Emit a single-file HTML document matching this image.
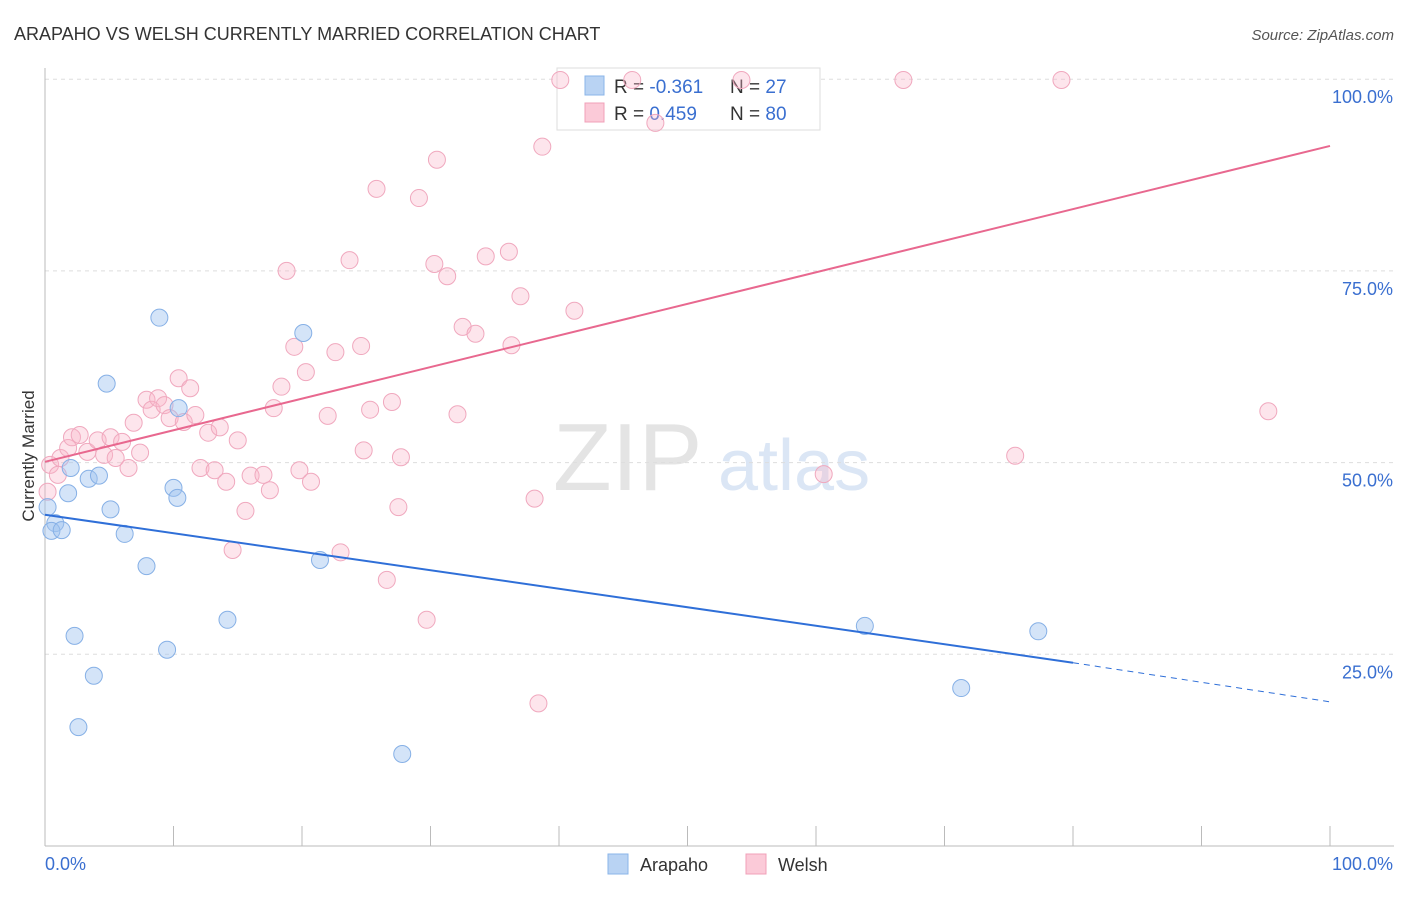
<!DOCTYPE html>
<html><head><meta charset="utf-8">
<style>
body{margin:0;background:#fff;font-family:"Liberation Sans",sans-serif;}
svg text{font-family:"Liberation Sans",sans-serif;}
</style></head>
<body>
<svg id="chart" width="1406" height="892">
<text x="14" y="40" font-size="18" fill="#333">ARAPAHO VS WELSH CURRENTLY MARRIED CORRELATION CHART</text>
<text x="1394" y="40" font-size="15" fill="#555" font-style="italic" text-anchor="end">Source: ZipAtlas.com</text>
<text x="553" y="490" font-size="96" fill="#e4e4e4" font-family="Liberation Serif">ZIP</text>
<text x="718" y="490" font-size="72" fill="#dbe6f5">atlas</text>
<g id="grid"></g>
<g id="axes"></g>
<g id="legend">
<rect x="557" y="68" width="263" height="62" fill="#fff" stroke="#ddd"/>
<rect x="585" y="76" width="19" height="19" fill="#b9d3f3" stroke="#8ab4e8"/>
<rect x="585" y="103" width="19" height="19" fill="#fbcad8" stroke="#f0a0b8"/>
<text x="614" y="93" font-size="19" fill="#333">R = <tspan fill="#3a6fd0">-0.361</tspan></text>
<text x="730" y="93" font-size="19" fill="#333">N = <tspan fill="#3a6fd0"> 27</tspan></text>
<text x="614" y="120" font-size="19" fill="#333">R = <tspan fill="#3a6fd0"> 0.459</tspan></text>
<text x="730" y="120" font-size="19" fill="#333">N = <tspan fill="#3a6fd0">80</tspan></text>
</g>
<g id="marks"></g>
<g>
<rect x="608" y="854" width="20" height="20" fill="#b9d3f3" stroke="#8ab4e8"/>
<text x="640" y="871" font-size="18" fill="#333">Arapaho</text>
<rect x="746" y="854" width="20" height="20" fill="#fbcad8" stroke="#f0a0b8"/>
<text x="778" y="871" font-size="18" fill="#333">Welsh</text>
</g>
<text transform="translate(34,456) rotate(-90)" font-size="17" fill="#333" text-anchor="middle">Currently Married</text>
</svg>
<script>
const yTicks=[25,50,75,100];
const yTickLabels=["25.0%","50.0%","75.0%","100.0%"];
const xTicks=[0,10,20,30,40,50,60,70,80,90,100];
const arapahoX=[0.2,0.8,0.5,1.3,1.8,2.0,3.4,4.2,5.1,4.8,6.2,7.9,2.3,3.8,2.6,8.9,10.4,10.0,10.3,9.5,14.2,20.1,21.4,27.8,63.8,71.3,77.3];
const arapahoY=[44.2,42.1,41.1,41.2,46.0,49.3,47.9,48.3,43.9,60.3,40.7,36.5,27.4,22.2,15.5,68.9,57.1,46.7,45.4,25.6,29.5,66.9,37.3,12.0,28.7,20.6,28.0];
const welshX=[0.4,1.2,1.0,1.8,2.1,2.7,3.3,4.1,4.6,5.1,5.5,6.0,6.5,6.9,7.4,7.9,8.3,8.8,9.3,9.7,10.4,10.8,11.3,11.7,12.1,12.7,13.2,13.6,14.1,14.6,15.0,15.6,16.0,17.0,17.5,17.8,18.4,18.8,19.4,20.3,19.8,20.7,22.0,22.6,23.0,23.7,24.6,24.8,25.3,25.8,26.6,27.0,27.5,27.7,29.1,29.7,30.3,30.5,31.3,32.1,32.5,33.5,34.3,36.1,36.3,37.0,38.1,38.4,38.7,40.1,41.2,45.7,47.5,54.2,60.6,66.8,75.5,79.1,95.2,0.2];
const welshY=[49.7,50.6,48.4,51.9,53.3,53.6,51.4,52.9,51.0,53.3,50.6,52.7,49.3,55.2,51.3,58.2,56.9,58.4,57.5,55.8,61.0,55.3,59.7,56.2,49.3,53.9,49.0,54.6,47.5,38.6,52.9,43.7,48.3,48.4,46.4,57.1,59.9,75.0,65.1,61.8,49.0,47.5,56.1,64.4,38.3,76.4,65.2,51.6,56.9,85.7,34.7,57.9,44.2,50.7,84.5,29.5,75.9,89.5,74.3,56.3,67.7,66.8,76.9,77.5,65.3,71.7,45.3,18.6,91.2,99.9,69.8,99.9,94.3,99.9,48.5,99.9,50.9,99.9,56.7,46.2];
const arapahoTrendX=[0,80,100];
const arapahoTrendY=[43.2,23.9,18.8];
const welshTrendX=[0,100];
const welshTrendY=[50.1,91.3];

const NS="http://www.w3.org/2000/svg";
const sx=v=>45+v*12.85;
const sy=v=>846-v*7.668;
function mk(tag,attrs,parent){const e=document.createElementNS(NS,tag);for(const k in attrs)e.setAttribute(k,attrs[k]);parent.appendChild(e);return e;}
const grid=document.getElementById('grid'),axes=document.getElementById('axes'),marks=document.getElementById('marks');
yTicks.forEach((t,i)=>{
 const l=mk('line',{x1:45,x2:1394,y1:sy(t),y2:sy(t),stroke:'#ddd','stroke-dasharray':'4,4'},grid);
 
 
 const tx=mk('text',{x:1393,y:sy(t)+24,'font-size':18,fill:'#3a6fd0','text-anchor':'end'},axes);
 tx.textContent=yTickLabels[i];
 
 
});
const xl=mk('line',{x1:45,x2:1394,y1:846,y2:846,stroke:'#bbb'},axes);


const yl=mk('line',{x1:45,x2:45,y1:68,y2:846,stroke:'#bbb'},axes);


xTicks.forEach(t=>{
 const l=mk('line',{x1:sx(t),x2:sx(t),y1:826,y2:846,stroke:'#bbb'},axes);
 
 
});
const x0=mk('text',{x:45,y:870,'font-size':18,fill:'#3a6fd0'},axes);x0.textContent='0.0%';


const x1=mk('text',{x:1393,y:870,'font-size':18,fill:'#3a6fd0','text-anchor':'end'},axes);x1.textContent='100.0%';



welshX.forEach((x,i)=>{
 const c=mk('circle',{cx:sx(x),cy:sy(welshY[i]),r:8.5,fill:'rgba(248,180,200,0.35)',stroke:'#f0a8be','stroke-width':1},marks);
 
 
});
arapahoX.forEach((x,i)=>{
 const c=mk('circle',{cx:sx(x),cy:sy(arapahoY[i]),r:8.5,fill:'rgba(160,196,240,0.45)',stroke:'#86b0e6','stroke-width':1},marks);
 
 
});
const bt=mk('line',{x1:sx(arapahoTrendX[0]),y1:sy(arapahoTrendY[0]),x2:sx(arapahoTrendX[1]),y2:sy(arapahoTrendY[1]),stroke:'#2f6fd8','stroke-width':2},marks);


const bd=mk('line',{x1:sx(arapahoTrendX[1]),y1:sy(arapahoTrendY[1]),x2:sx(arapahoTrendX[2]),y2:sy(arapahoTrendY[2]),stroke:'#2f6fd8','stroke-width':1,'stroke-dasharray':'6,5'},marks);


const pt=mk('line',{x1:sx(welshTrendX[0]),y1:sy(welshTrendY[0]),x2:sx(welshTrendX[1]),y2:sy(welshTrendY[1]),stroke:'#e8688f','stroke-width':2},marks);


</script>
</body></html>
